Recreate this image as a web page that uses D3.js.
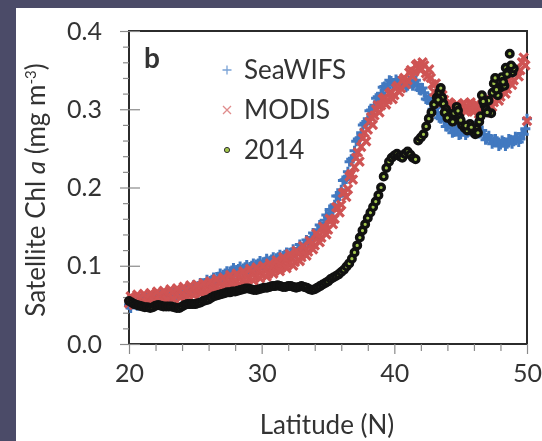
<!DOCTYPE html>
<html><head><meta charset="utf-8">
<script src="https://cdn.jsdelivr.net/npm/d3@7"></script>
<style>
html,body{margin:0;padding:0;background:#4b4b68;overflow:hidden;}
svg{display:block;filter:blur(0.45px);}
text{font-family:Lato,"Open Sans",sans-serif;fill:#333;}
</style></head><body>
<svg id="c" width="542" height="441"></svg>
<script>
// ---------- data ----------
const seriesNames = ["SeaWIFS", "MODIS", "2014"];
const xTicks = [20, 30, 40, 50];
const yTicks = [0, 0.1, 0.2, 0.3, 0.4];
const gridLat = [20,20.25,20.5,20.75,21,21.25,21.5,21.75,22,22.25,22.5,22.75,23,23.25,23.5,23.75,24,24.25,24.5,24.75,
 25,25.25,25.5,25.75,26,26.25,26.5,26.75,27,27.25,27.5,27.75,28,28.25,28.5,28.75,29,29.25,29.5,29.75,
 30,30.25,30.5,30.75,31,31.25,31.5,31.75,32,32.25,32.5,32.75,33,33.25,33.5,33.75,34,34.25,34.5,34.75,
 35,35.25,35.5,35.75,36,36.25,36.5,36.75,37,37.25,37.5,37.75,38,38.25,38.5,38.75,39,39.25,39.5,39.75,
 40,40.25,40.5,40.75,41,41.25,41.5,41.75,42,42.25,42.5,42.75,43,43.25,43.5,43.75,44,44.25,44.5,44.75,
 45,45.25,45.5,45.75,46,46.25,46.5,46.75,47,47.25,47.5,47.75,48,48.25,48.5,48.75,49,49.25,49.5,49.75,50];
const gridLatB = [20.125,20.375,20.625,20.875,21.125,21.375,21.625,21.875,22.125,22.375,22.625,22.875,23.125,23.375,23.625,23.875,24.125,24.375,24.625,24.875,
 25.125,25.375,25.625,25.875,26.125,26.375,26.625,26.875,27.125,27.375,27.625,27.875,28.125,28.375,28.625,28.875,29.125,29.375,29.625,29.875,
 30.125,30.375,30.625,30.875,31.125,31.375,31.625,31.875,32.125,32.375,32.625,32.875,33.125,33.375,33.625,33.875,34.125,34.375,34.625,34.875,
 35.125,35.375,35.625,35.875,36.125,36.375,36.625,36.875,37.125,37.375,37.625,37.875,38.125,38.375,38.625,38.875,39.125,39.375,39.625,39.875,
 40.125,40.375,40.625,40.875,41.125,41.375,41.625,41.875,42.125,42.375,42.625,42.875,43.125,43.375,43.625,43.875,44.125,44.375,44.625,44.875,
 45.125,45.375,45.625,45.875,46.125,46.375,46.625,46.875,47.125,47.375,47.625,47.875,48.125,48.375,48.625,48.875,49.125,49.375,49.625,49.875];
const seawifs = [0.050,0.052,0.051,0.054,0.053,0.056,0.055,0.058,0.057,0.060,
 0.059,0.062,0.061,0.064,0.063,0.066,0.065,0.068,0.068,0.071,
 0.070,0.074,0.074,0.078,0.078,0.082,0.081,0.086,0.086,0.090,
 0.089,0.094,0.092,0.096,0.094,0.098,0.096,0.100,0.099,0.103,
 0.101,0.105,0.104,0.108,0.106,0.111,0.110,0.114,0.113,0.117,
 0.117,0.122,0.123,0.128,0.130,0.136,0.139,0.146,0.150,0.158,
 0.163,0.172,0.178,0.189,0.197,0.210,0.220,0.236,0.247,0.262,
 0.270,0.282,0.288,0.299,0.305,0.316,0.320,0.329,0.331,0.336,
 0.333,0.336,0.331,0.333,0.330,0.334,0.333,0.332,0.324,0.321,
 0.312,0.308,0.300,0.296,0.288,0.285,0.278,0.276,0.271,0.272,
 0.268,0.272,0.270,0.276,0.274,0.277,0.270,0.268,0.263,0.262,
 0.258,0.259,0.255,0.258,0.256,0.261,0.259,0.263,0.262,0.268,0.288];
const seawifsB = [0.046,0.056,0.049,0.058,0.050,0.059,0.052,0.061,0.054,0.064,0.056,0.066,0.058,0.068,0.060,0.070,0.062,0.072,0.066,0.075,
 0.068,0.078,0.073,0.082,0.077,0.085,0.080,0.090,0.084,0.093,0.088,0.097,0.090,0.099,0.092,0.101,0.094,0.103,0.097,0.106,
 0.099,0.109,0.102,0.111,0.105,0.114,0.108,0.117,0.111,0.121,0.115,0.127,0.121,0.133,0.129,0.142,0.138,0.152,0.150,0.165,
 0.172,0.171,0.189,0.189,0.209,0.211,0.233,0.237,0.259,0.262,0.280,0.281,0.298,0.298,0.314,0.315,0.328,0.327,0.337,0.331,
 0.338,0.330,0.336,0.328,0.336,0.330,0.337,0.325,0.327,0.313,0.314,0.300,0.302,0.289,0.290,0.278,0.281,0.270,0.275,0.267,
 0.274,0.267,0.277,0.271,0.279,0.269,0.273,0.261,0.266,0.256,0.262,0.253,0.260,0.253,0.262,0.256,0.265,0.258,0.269,0.275];
const modis = [0.052,0.058,0.054,0.059,0.055,0.060,0.056,0.062,0.058,0.063,
 0.059,0.065,0.060,0.066,0.062,0.068,0.063,0.069,0.064,0.071,
 0.066,0.073,0.067,0.075,0.069,0.077,0.071,0.079,0.073,0.081,
 0.075,0.084,0.078,0.086,0.080,0.089,0.083,0.091,0.085,0.094,
 0.088,0.096,0.090,0.099,0.094,0.103,0.098,0.107,0.102,0.110,
 0.105,0.115,0.111,0.120,0.118,0.128,0.126,0.137,0.136,0.147,
 0.146,0.158,0.160,0.174,0.178,0.194,0.198,0.217,0.226,0.245,
 0.252,0.270,0.274,0.290,0.292,0.305,0.305,0.315,0.312,0.322,
 0.318,0.330,0.327,0.340,0.337,0.350,0.348,0.358,0.350,0.356,
 0.342,0.340,0.322,0.320,0.308,0.312,0.300,0.307,0.297,0.306,
 0.298,0.308,0.300,0.309,0.297,0.306,0.295,0.305,0.300,0.312,
 0.309,0.322,0.316,0.330,0.326,0.341,0.337,0.352,0.350,0.366,0.285];
const modisB = [0.061,0.050,0.063,0.052,0.064,0.053,0.065,0.054,0.067,0.055,0.068,0.056,0.070,0.057,0.071,0.059,0.073,0.060,0.075,0.062,
 0.076,0.064,0.078,0.066,0.080,0.068,0.083,0.070,0.085,0.072,0.088,0.074,0.090,0.076,0.093,0.079,0.096,0.081,0.098,0.084,
 0.100,0.086,0.103,0.090,0.107,0.093,0.111,0.097,0.115,0.100,0.119,0.106,0.125,0.113,0.132,0.121,0.141,0.130,0.150,0.140,
 0.160,0.153,0.175,0.168,0.193,0.188,0.214,0.210,0.238,0.233,0.263,0.259,0.284,0.280,0.300,0.296,0.313,0.306,0.320,0.313,
 0.327,0.322,0.337,0.332,0.347,0.342,0.356,0.352,0.360,0.346,0.351,0.332,0.333,0.313,0.318,0.304,0.309,0.298,0.305,0.296,
 0.306,0.297,0.307,0.298,0.306,0.294,0.303,0.296,0.309,0.303,0.318,0.311,0.327,0.320,0.337,0.331,0.348,0.342,0.360,0.356];
const lat2014 = [20.0,20.2,20.4,20.6,20.8,21.0,21.2,21.4,21.6,21.8,22.0,22.2,22.4,22.6,22.8,23.0,23.2,23.4,23.6,23.8,
 24.0,24.2,24.4,24.6,24.8,25.0,25.2,25.4,25.6,25.8,26.0,26.2,26.4,26.6,26.8,27.0,27.2,27.4,27.6,27.8,
 28.0,28.2,28.4,28.6,28.8,29.0,29.2,29.4,29.6,29.8,30.0,30.2,30.4,30.6,30.8,31.0,31.2,31.4,31.6,31.8,
 32.0,32.2,32.4,32.6,32.8,33.0,33.2,33.4,33.6,33.8,34.0,34.2,34.4,34.6,34.8,35.0,35.2,35.4,35.6,35.8,
 36.0,36.2,36.4,36.6,36.8,37.0,37.2,37.4,37.6,37.8,38.0,38.2,38.4,38.6,38.8,39.0,39.2,39.4,39.6,39.8,
 40.0,40.2,40.4,40.6,40.8,41.0,41.2,41.4,41.6,41.8,42.0,42.2,42.4,42.6,42.8,43.0,43.2,43.4,43.5,43.6,
 43.7,43.9,44.1,44.3,44.5,44.7,44.9,45.1,45.3,45.5,45.7,45.9,46.1,46.2,46.4,46.5,46.6,46.8,46.9,47.1,
 47.3,47.5,47.6,47.8,48.0,48.1,48.3,48.4,48.6,48.7,48.9,49.0,
 43.3,43.8,44.0,44.4,44.8,45.0,45.4,45.8,46.3,46.7,47.0,47.4,47.7,48.2,48.5,48.8];
const chl2014 = [0.055,0.053,0.051,0.050,0.049,0.048,0.047,0.047,0.046,0.047,0.049,0.050,0.049,0.048,0.048,0.048,0.048,0.047,0.046,0.046,
 0.048,0.050,0.051,0.051,0.051,0.051,0.052,0.053,0.055,0.056,0.057,0.059,0.061,0.062,0.063,0.064,0.065,0.066,0.066,0.067,
 0.067,0.068,0.069,0.070,0.071,0.071,0.070,0.069,0.069,0.070,0.071,0.072,0.072,0.073,0.074,0.074,0.075,0.074,0.073,0.073,
 0.074,0.074,0.073,0.072,0.073,0.074,0.073,0.072,0.070,0.069,0.070,0.072,0.074,0.076,0.078,0.080,0.083,0.085,0.087,0.089,
 0.092,0.095,0.099,0.103,0.109,0.117,0.126,0.136,0.145,0.153,0.161,0.168,0.175,0.182,0.190,0.200,0.214,0.225,0.233,0.238,
 0.241,0.243,0.240,0.238,0.243,0.246,0.242,0.238,0.236,0.260,0.264,0.268,0.278,0.288,0.296,0.306,0.315,0.322,0.327,0.315,
 0.307,0.300,0.292,0.287,0.295,0.303,0.290,0.280,0.276,0.273,0.281,0.272,0.268,0.275,0.284,0.291,0.318,0.305,0.300,0.311,
 0.295,0.333,0.340,0.318,0.328,0.341,0.330,0.353,0.348,0.371,0.347,0.352,
 0.312,0.296,0.289,0.284,0.298,0.286,0.279,0.277,0.270,0.310,0.296,0.321,0.325,0.335,0.345,0.356];

// ---------- chart ----------
const W = 542, H = 441;
const svg = d3.select("#c");
svg.append("rect").attr("x", 16).attr("y", 8).attr("width", W - 16).attr("height", H - 8).attr("fill", "#fff");

const x = d3.scaleLinear().domain([20, 50]).range([129, 527]);
const y = d3.scaleLinear().domain([0, 0.4]).range([344, 31]);
const FS = 25;

// frame
svg.append("rect").attr("x", x(20)).attr("y", y(0.4)).attr("width", x(50) - x(20)).attr("height", y(0) - y(0.4))
  .attr("fill", "none").attr("stroke", "#2b2b2b").attr("stroke-width", 2);

// y axis minor
const yMinor = [];
for (let i = 0; i <= 20; i++) if (i % 5) yMinor.push(i / 50);
const gyMinor = svg.append("g").attr("transform", `translate(${x(20)},0)`)
  .call(d3.axisLeft(y).tickValues(yMinor).tickSize(6).tickFormat(""));
gyMinor.select(".domain").remove();
gyMinor.selectAll("line").attr("stroke", "#8a8a8a").attr("stroke-width", 1.2);
// y axis major
const gy = svg.append("g").attr("transform", `translate(${x(20)},0)`)
  .call(d3.axisLeft(y).tickValues(yTicks).tickSize(9).tickPadding(18).tickFormat(d3.format(".1f")));
gy.select(".domain").remove();
gy.selectAll("line").attr("x1", 11).attr("stroke", "#8a8a8a").attr("stroke-width", 1.2);
gy.selectAll("text").style("font-size", FS + "px").attr("fill", "#333").style("font-family", "Lato");

// x axis minor
const xMinor = [];
for (let v = 22; v < 50; v += 2) if (v % 10) xMinor.push(v);
const gxMinor = svg.append("g").attr("transform", `translate(0,${y(0)})`)
  .call(d3.axisBottom(x).tickValues(xMinor).tickSize(7).tickFormat(""));
gxMinor.select(".domain").remove();
gxMinor.selectAll("line").attr("stroke", "#8a8a8a").attr("stroke-width", 1.2);
const gx = svg.append("g").attr("transform", `translate(0,${y(0)})`)
  .call(d3.axisBottom(x).tickValues(xTicks).tickSize(10).tickPadding(10).tickFormat(d3.format("d")));
gx.select(".domain").remove();
gx.selectAll("line").attr("stroke", "#8a8a8a").attr("stroke-width", 1.2);
gx.selectAll("text").style("font-size", FS + "px").attr("fill", "#333").style("font-family", "Lato");

// marker paths
const plusPath = "M-5,0H5M0,-5V5";
const xPath = "M-4.2,-4.2L4.2,4.2M-4.2,4.2L4.2,-4.2";
const BLUE = "#4279c0", RED = "#cf5454", GREEN = "#a3c64c";

const dS = gridLat.map((l, i) => ({ lat: l, v: seawifs[i] }))
  .concat(gridLatB.map((l, i) => ({ lat: l, v: seawifsB[i] })));
const dM = gridLat.map((l, i) => ({ lat: l, v: modis[i] }))
  .concat(gridLatB.map((l, i) => ({ lat: l, v: modisB[i] })));
const d4 = lat2014.map((l, i) => ({ lat: l, v: chl2014[i] }));

svg.append("g").selectAll("path").data(dS).join("path")
  .attr("d", plusPath).attr("transform", d => `translate(${x(d.lat)},${y(d.v)})`)
  .attr("stroke", BLUE).attr("stroke-width", 3).attr("fill", "none");
svg.append("g").selectAll("path").data(dM).join("path")
  .attr("d", xPath).attr("transform", d => `translate(${x(d.lat)},${y(d.v)})`)
  .attr("stroke", RED).attr("stroke-width", 3.2).attr("fill", "none");
svg.append("g").selectAll("circle").data(d4).join("circle")
  .attr("cx", d => x(d.lat)).attr("cy", d => y(d.v)).attr("r", 3.3)
  .attr("fill", GREEN).attr("stroke", "#111").attr("stroke-width", 3.4);

// panel label
svg.append("text").attr("x", 144).attr("y", 68).text("b")
  .style("font-size", "28px").style("font-weight", "bold").attr("fill", "#111");

// legend
const leg = svg.append("g");
const legY = [70, 110, 150];
leg.append("path").attr("d", "M-4.5,0H4.5M0,-4.5V4.5").attr("transform", `translate(227,${legY[0]})`)
  .attr("stroke", "#7aa3d6").attr("stroke-width", 1.3).attr("fill", "none");
leg.append("path").attr("d", "M-4,-4L4,4M-4,4L4,-4").attr("transform", `translate(227,${legY[1]})`)
  .attr("stroke", "#e08c8c").attr("stroke-width", 1.3).attr("fill", "none");
leg.append("circle").attr("cx", 227).attr("cy", legY[2]).attr("r", 2.6)
  .attr("fill", GREEN).attr("stroke", "#333").attr("stroke-width", 1);
leg.selectAll("text").data(seriesNames).join("text")
  .attr("x", 244).attr("y", (d, i) => legY[i]).attr("dy", "0.36em").text(d => d)
  .style("font-size", "26px");

// y title
const yt = svg.append("text").attr("transform", "translate(45,190) rotate(-90)")
  .attr("text-anchor", "middle").style("font-size", "26px");
yt.append("tspan").text("Satellite Chl ");
yt.append("tspan").text("a").style("font-style", "italic");
yt.append("tspan").text(" (mg m");
yt.append("tspan").text("-3").style("font-size", "15px").attr("dy", "-9");
yt.append("tspan").text(")").attr("dy", "9");

// x title
svg.append("text").attr("x", 327).attr("y", 434).attr("text-anchor", "middle")
  .style("font-size", "26px").text("Latitude (N)");
</script>
</body></html>
